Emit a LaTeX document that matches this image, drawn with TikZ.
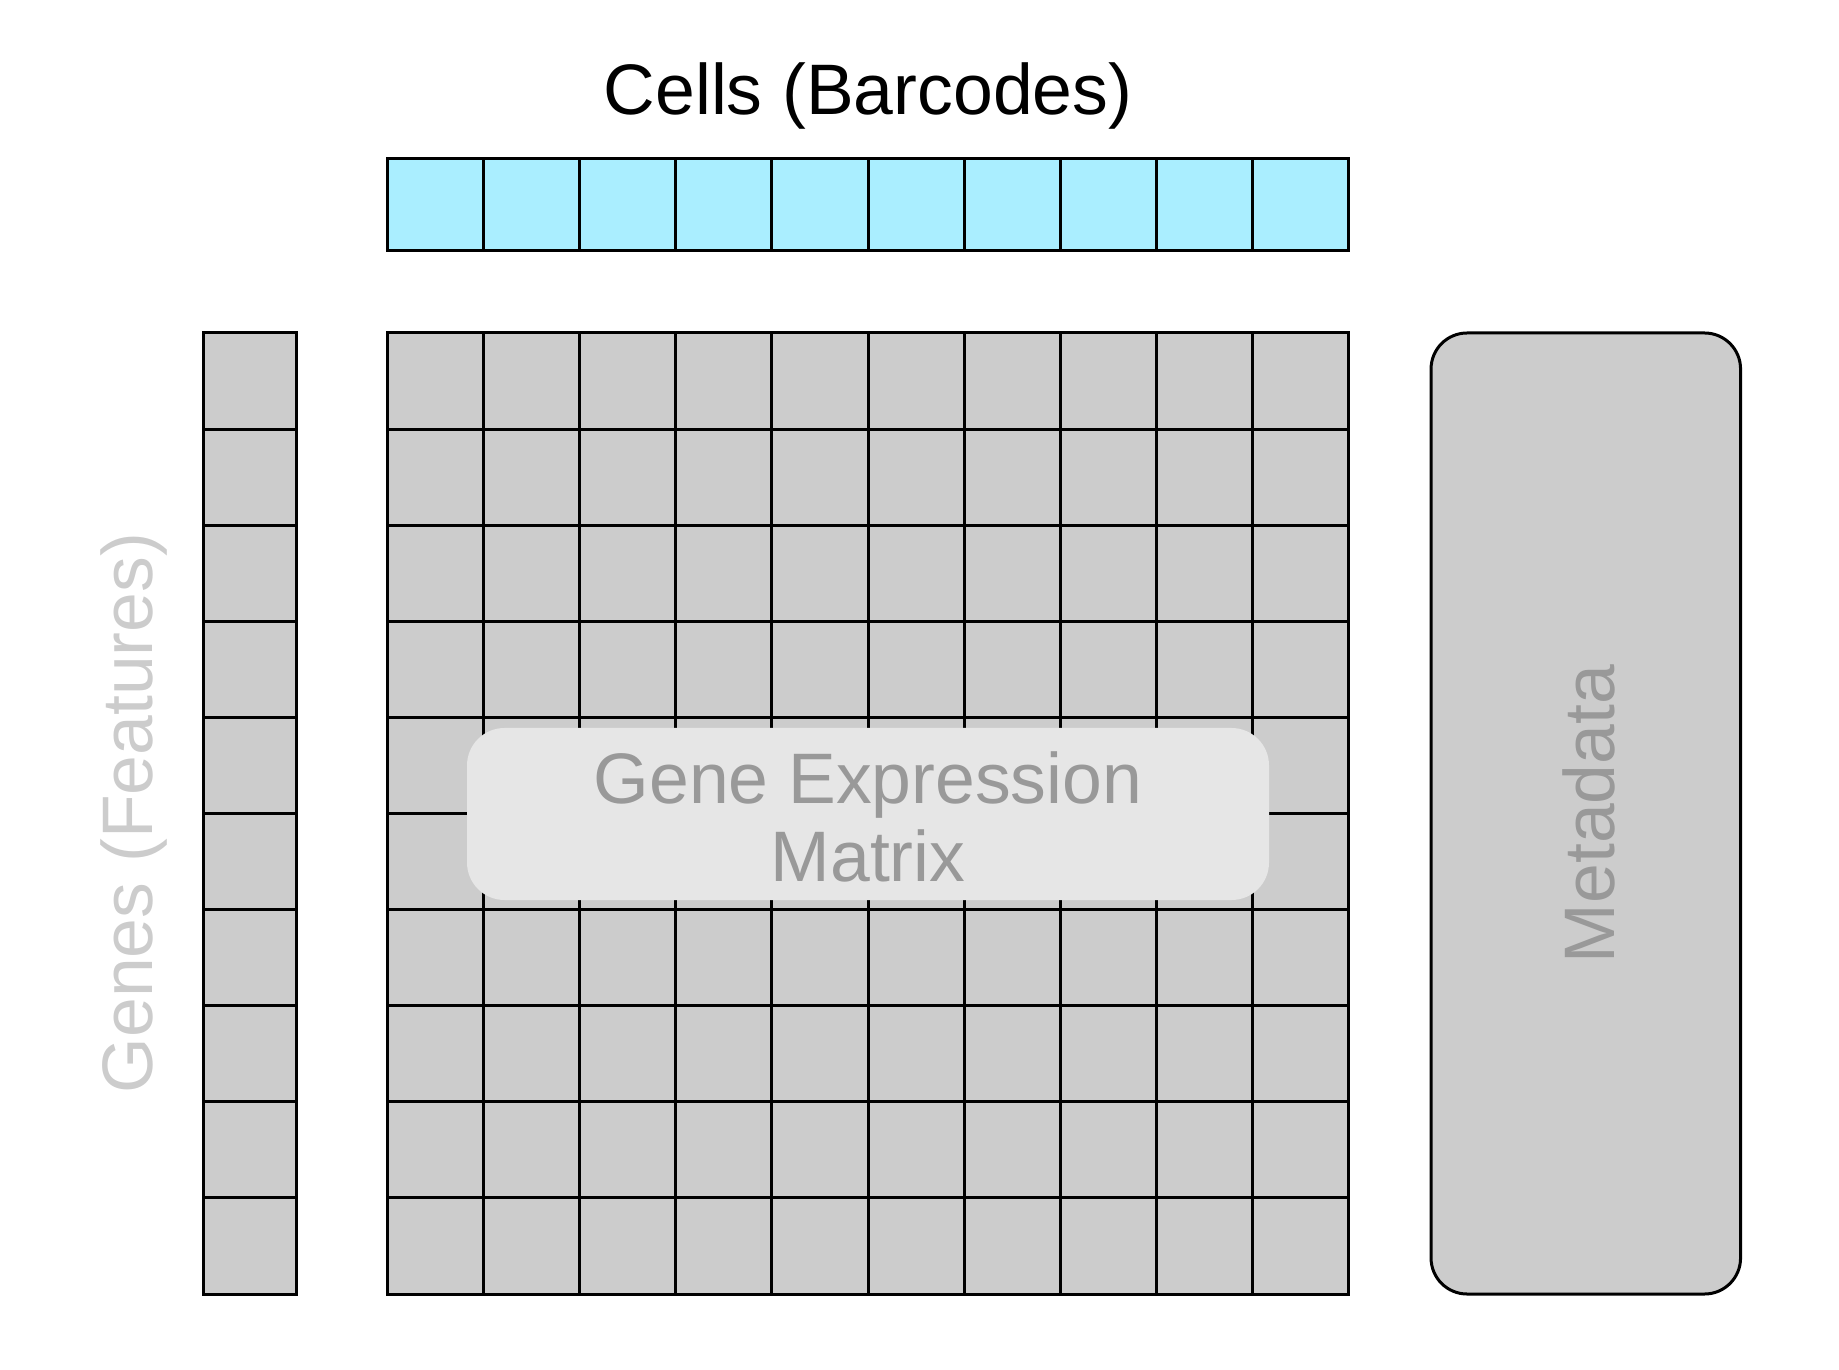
\documentclass[tikz,border=0pt]{standalone}
\usepackage{fontspec}
\setmainfont{Liberation Sans}
\definecolor{cellcyan}{HTML}{AAEEFF}
\definecolor{cellgray}{HTML}{CCCCCC}
\definecolor{overlaygray}{HTML}{E6E6E6}
\definecolor{labelgray}{HTML}{999999}
\definecolor{lightlabel}{HTML}{CCCCCC}
\newcommand\bigfont{\fontsize{28.6pt}{30.96pt}\selectfont}
\begin{document}
\begin{tikzpicture}[x=0.4pt,y=-0.4pt,
  cellbox/.style={draw=black, line width=1.2pt, inner sep=0pt, outer sep=0pt,
    minimum width=38.44pt, minimum height=38.44pt, fill=cellgray},
  barcell/.style={cellbox, fill=cellcyan, minimum height=37pt},
  genecell/.style={cellbox, minimum width=37.2pt},
  biglabel/.style={font=\bigfont, inner sep=0pt}]
\useasboundingbox (0,0) rectangle (1839,1370);

% title
\node[biglabel, anchor=base] (title) at (868,115) {Cells (Barcodes)};

% barcode row
\foreach \i in {0,...,9}
  \node[barcell] (b\i) at ({387.5+96.1*(\i+0.5)},204.3) {};

% matrix
\foreach \i in {0,...,9}
  \foreach \j in {0,...,9}
    \node[cellbox] (m\i-\j) at ({387.5+96.1*(\i+0.5)},{333+96.1*(\j+0.5)}) {};

% gene column
\foreach \j in {0,...,9}
  \node[genecell] (g\j) at (249.5,{333+96.1*(\j+0.5)}) {};

% genes label
\node[biglabel, rotate=90, anchor=base, text=lightlabel] (genes) at (152.5,813) {Genes (Features)};

% metadata
\node[draw=black, line width=1.2pt, fill=cellgray, rounded corners=14.4pt,
  minimum width=123.8pt, minimum height=384.4pt, inner sep=0pt] (meta) at (1585.8,813.5) {};
\node[biglabel, rotate=90, anchor=base, text=labelgray] (metalabel) at (1614,814) {Metadata};

% overlay
\node[fill=overlaygray, rounded corners=15pt, minimum width=320.8pt,
  minimum height=68.8pt, inner sep=0pt] (gem) at (868,814) {};
\node[biglabel, align=center, text=labelgray] (gemlabel) at (868,817) {Gene Expression\\Matrix};
\end{tikzpicture}
\end{document}
